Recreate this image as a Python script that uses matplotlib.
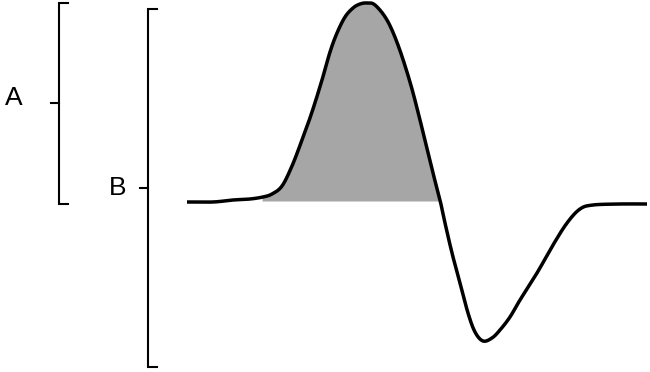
import numpy as np
import matplotlib.pyplot as plt

# waveform (x to the right, y downward, in pixels)
wave_x = [187, 213, 233, 250, 263, 272, 282, 292, 302, 312, 322, 330, 337, 345,
          353, 360, 367, 375, 387, 398, 410, 420, 433, 440, 445, 452, 460, 468,
          475, 483, 492, 500, 510, 520, 537, 553, 567, 580, 593, 620, 647]
wave_y = [202, 202, 200, 199, 197, 194, 186, 166, 140, 112, 80, 52, 33, 17,
          8, 4, 3, 5, 20, 45, 82, 120, 173, 200, 223, 253, 283, 313,
          332, 341, 338, 330, 317, 300, 273, 245, 223, 209, 205, 204, 204]
baseline = 201
fill_start, fill_end = 262, 440

# brackets: label, x of spine, top, bottom, middle tick y, label position
brackets = [
    ("A", 59, 3, 204, 103, 14, 98),
    ("B", 148, 9, 367, 188, 118, 188),
]


def catmull_rom(xs, ys, n=12):
    # smooth the traced points for drawing only
    p = np.column_stack([xs, ys]).astype(float)
    p = np.vstack([p[0], p, p[-1]])
    out = []
    t = np.linspace(0, 1, n, endpoint=False)[:, None]
    for i in range(1, len(p) - 2):
        p0, p1, p2, p3 = p[i - 1], p[i], p[i + 1], p[i + 2]
        seg = 0.5 * ((2 * p1) + (-p0 + p2) * t
                     + (2 * p0 - 5 * p1 + 4 * p2 - p3) * t ** 2
                     + (-p0 + 3 * p1 - 3 * p2 + p3) * t ** 3)
        out.append(seg)
    out.append(p[-2][None, :])
    out = np.vstack(out)
    return out[:, 0], out[:, 1]


fig = plt.figure(figsize=(6.5, 3.72), dpi=100)
ax = fig.add_axes([0, 0, 1, 1])
ax.set_xlim(0, 650)
ax.set_ylim(372, 0)
ax.axis("off")

sx, sy = catmull_rom(wave_x, wave_y)
mask = (sx >= fill_start) & (sx <= fill_end)
ax.fill_between(sx[mask], sy[mask], baseline, color="#a6a6a6", linewidth=0, zorder=1)
ax.plot(sx, sy, color="black", linewidth=2.5, solid_capstyle="butt",
        solid_joinstyle="round", zorder=2)

for label, bx, top, bot, mid, lx, ly in brackets:
    ax.plot([bx + 9, bx, bx, bx + 9], [top, top, bot, bot], color="black",
            linewidth=1.5, solid_joinstyle="miter")
    ax.plot([bx - 8, bx], [mid, mid], color="black", linewidth=1.5)
    ax.text(lx, ly, label, fontsize=19, ha="center", va="center",
            family="Liberation Sans")

fig.savefig("out.png", dpi=100)
